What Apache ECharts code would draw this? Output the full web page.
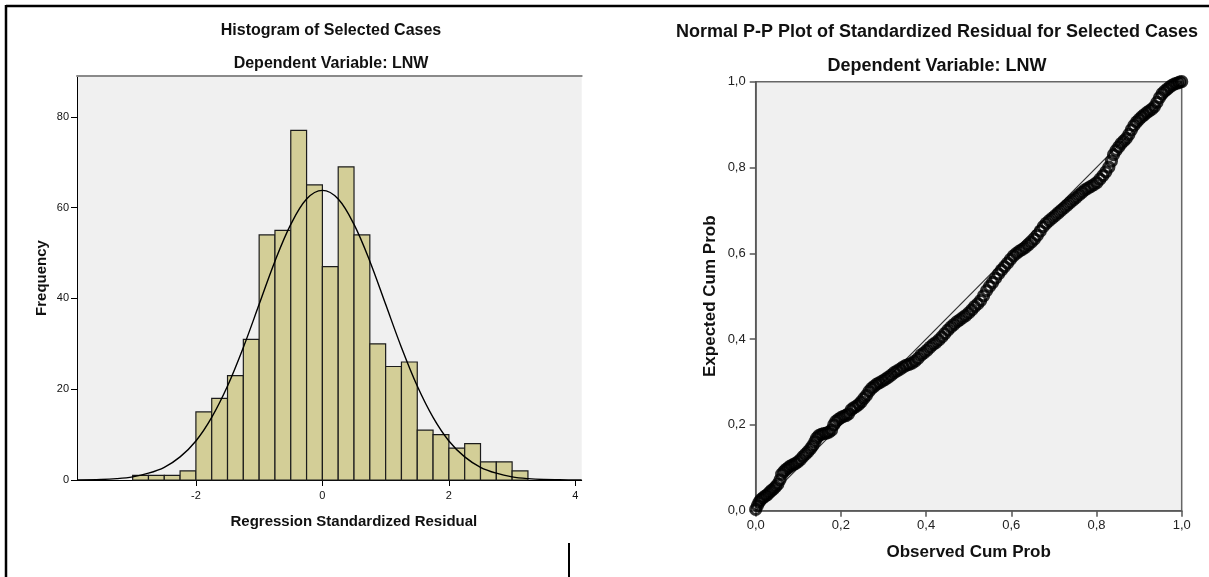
<!DOCTYPE html>
<html lang="en">
<head>
  <meta charset="UTF-8">
  <title>Histogram and Normal P-P Plot - LNW</title>
  <script src="https://cdn.jsdelivr.net/npm/echarts@6.0.0/dist/echarts.min.js"></script>
  <style>
    html, body { margin: 0; padding: 0; background: #fff; }
    #main { width: 1209px; height: 577px; }
  </style>
</head>
<body>
<div id="main"></div>
<script>
// histogram: left edge of each bin (width 0.25) and its frequency
var binLeft = [-3, -2.75, -2.5, -2.25, -2, -1.75, -1.5, -1.25, -1, -0.75, -0.5, -0.25,
               0, 0.25, 0.5, 0.75, 1, 1.25, 1.5, 1.75, 2, 2.25, 2.5, 2.75, 3];
var binCount = [1, 1, 1, 2, 15, 18, 23, 31, 54, 55, 77, 65,
                47, 69, 54, 30, 25, 26, 11, 10, 7, 8, 4, 4, 2];
var binWidth = 0.25;

// normal curve
var curveX = [-3.88, -3.5, -3.25, -3, -2.75, -2.5, -2.25, -2, -1.75, -1.5, -1.25, -1, -0.75, -0.5, -0.25,
              0, 0.25, 0.5, 0.75, 1, 1.25, 1.5, 1.75, 2, 2.25, 2.5, 2.75, 3, 3.25, 3.5, 3.75, 4.1];
var curveY = [0.0, 0.1, 0.3, 0.7, 1.5, 2.8, 5.1, 8.6, 13.8, 20.7, 29.2, 38.7, 48.2, 56.3, 61.9,
              63.8, 61.9, 56.3, 48.2, 38.7, 29.2, 20.7, 13.8, 8.6, 5.1, 2.8, 1.5, 0.7, 0.3, 0.1, 0.05, 0.0];

var histXTicks = [-2, 0, 2, 4];
var histYTicks = [0, 20, 40, 60, 80];

// P-P plot points
var observedProb = [0.000, 0.004, 0.008, 0.012, 0.017, 0.022, 0.027, 0.032, 0.037, 0.042, 0.047, 0.052, 0.057, 0.061, 0.066,
  0.071, 0.076, 0.081, 0.087, 0.093, 0.099, 0.105, 0.111, 0.117, 0.123, 0.129, 0.134, 0.139, 0.143, 0.148,
  0.154, 0.160, 0.166, 0.172, 0.178, 0.183, 0.188, 0.194, 0.200, 0.206, 0.212, 0.218, 0.224, 0.230, 0.236,
  0.242, 0.248, 0.254, 0.260, 0.266, 0.272, 0.278, 0.284, 0.290, 0.297, 0.304, 0.311, 0.318, 0.325, 0.332,
  0.339, 0.346, 0.353, 0.360, 0.367, 0.374, 0.381, 0.388, 0.395, 0.402, 0.409, 0.416, 0.423, 0.430, 0.437,
  0.444, 0.451, 0.458, 0.465, 0.472, 0.479, 0.486, 0.493, 0.500, 0.507, 0.514, 0.521, 0.528, 0.535, 0.542,
  0.549, 0.556, 0.563, 0.570, 0.577, 0.584, 0.591, 0.598, 0.605, 0.612, 0.619, 0.626, 0.633, 0.640, 0.647,
  0.654, 0.661, 0.668, 0.675, 0.682, 0.689, 0.696, 0.703, 0.710, 0.717, 0.724, 0.731, 0.738, 0.745, 0.752,
  0.759, 0.766, 0.773, 0.780, 0.787, 0.794, 0.801, 0.808, 0.815, 0.822, 0.829, 0.835, 0.840, 0.846, 0.852,
  0.858, 0.864, 0.870, 0.876, 0.882, 0.888, 0.894, 0.900, 0.906, 0.912, 0.918, 0.924, 0.930, 0.936, 0.942,
  0.948, 0.954, 0.960, 0.966, 0.972, 0.978, 0.984, 0.990, 0.995, 1.000];
var expectedProb = [0.003, 0.012, 0.020, 0.026, 0.030, 0.034, 0.037, 0.042, 0.047, 0.051, 0.056, 0.062, 0.072, 0.085, 0.091,
  0.096, 0.100, 0.104, 0.107, 0.110, 0.114, 0.119, 0.126, 0.132, 0.138, 0.145, 0.152, 0.161, 0.169, 0.175,
  0.178, 0.180, 0.181, 0.183, 0.188, 0.200, 0.208, 0.213, 0.217, 0.220, 0.222, 0.226, 0.235, 0.240, 0.243,
  0.248, 0.254, 0.262, 0.269, 0.278, 0.285, 0.290, 0.295, 0.298, 0.302, 0.306, 0.311, 0.316, 0.322, 0.326,
  0.330, 0.335, 0.339, 0.341, 0.344, 0.349, 0.355, 0.363, 0.368, 0.374, 0.381, 0.387, 0.392, 0.398, 0.405,
  0.413, 0.421, 0.428, 0.434, 0.440, 0.445, 0.450, 0.455, 0.461, 0.468, 0.476, 0.482, 0.490, 0.501, 0.513,
  0.523, 0.532, 0.542, 0.552, 0.561, 0.569, 0.577, 0.586, 0.594, 0.600, 0.605, 0.609, 0.614, 0.620, 0.626,
  0.633, 0.642, 0.652, 0.662, 0.670, 0.676, 0.682, 0.688, 0.694, 0.700, 0.706, 0.712, 0.718, 0.724, 0.730,
  0.736, 0.742, 0.748, 0.752, 0.756, 0.760, 0.765, 0.773, 0.781, 0.790, 0.801, 0.815, 0.830, 0.840, 0.848,
  0.856, 0.862, 0.868, 0.877, 0.888, 0.898, 0.906, 0.912, 0.918, 0.923, 0.928, 0.932, 0.936, 0.942, 0.952,
  0.963, 0.972, 0.978, 0.983, 0.988, 0.992, 0.995, 0.997, 0.999, 1.000];

var FONT = "'Liberation Sans', Arial, sans-serif";
var NARROW = "'Liberation Sans Narrow', 'Liberation Sans', Arial, sans-serif";

var histData = binLeft.map(function (x, i) { return [x, x + binWidth, binCount[i]]; });
var curveData = curveX.map(function (x, i) { return [x, curveY[i]]; });
var ppData = observedProb.map(function (x, i) { return [x, expectedProb[i]]; });

function comma(v) { return v.toFixed(1).replace('.', ','); }

var chart = echarts.init(document.getElementById('main'), null, { renderer: 'canvas' });

var option = {
  animation: false,
  backgroundColor: '#fff',
  grid: [
    { left: 77, top: 76, width: 504.7, height: 404, show: true, backgroundColor: '#f0f0f0', borderWidth: 0 },
    { left: 755.7, top: 81.7, width: 426, height: 429, show: true, backgroundColor: '#f0f0f0', borderColor: '#666', borderWidth: 1.5 }
  ],
  xAxis: [
    {
      gridIndex: 0, type: 'value', min: -3.88, max: 4.1,
      name: 'Regression Standardized Residual', nameLocation: 'middle', nameGap: 34,
      nameTextStyle: { fontFamily: FONT, fontSize: 15, fontWeight: 'bold', color: '#111', padding: [0, 0, 0, 49] },
      axisLine: { onZero: false, lineStyle: { color: '#000', width: 1 } },
      axisTick: { customValues: histXTicks, length: 6, lineStyle: { color: '#000' } },
      axisLabel: { customValues: histXTicks, margin: 10, fontFamily: NARROW, fontSize: 11, color: '#111' },
      splitLine: { show: false }
    },
    {
      gridIndex: 0, type: 'value', min: -3.88, max: 4.1, position: 'top',
      axisLine: { onZero: false, lineStyle: { color: '#8a8a8a', width: 2 } },
      axisTick: { show: false }, axisLabel: { show: false }, splitLine: { show: false }
    },
    {
      gridIndex: 1, type: 'value', min: 0, max: 1, interval: 0.2,
      name: 'Observed Cum Prob', nameLocation: 'middle', nameGap: 33,
      nameTextStyle: { fontFamily: FONT, fontSize: 17, fontWeight: 'bold', color: '#111' },
      axisLine: { onZero: false, lineStyle: { color: '#555', width: 1.5 } },
      axisTick: { length: 6, lineStyle: { color: '#555', width: 1.5 } },
      axisLabel: { margin: 8, fontFamily: FONT, fontSize: 13, color: '#222', formatter: comma },
      splitLine: { show: false }
    }
  ],
  yAxis: [
    {
      gridIndex: 0, type: 'value', min: 0, max: 89,
      name: 'Frequency', nameLocation: 'middle', nameGap: 28,
      nameTextStyle: { fontFamily: FONT, fontSize: 15, fontWeight: 'bold', color: '#111' },
      axisLine: { show: true, onZero: false, lineStyle: { color: '#000', width: 1 } },
      axisTick: { show: true, customValues: histYTicks, length: 6, lineStyle: { color: '#000' } },
      axisLabel: { customValues: histYTicks, margin: 8, fontFamily: NARROW, fontSize: 11, color: '#111' },
      splitLine: { show: false }
    },
    {
      gridIndex: 1, type: 'value', min: 0, max: 1, interval: 0.2,
      name: 'Expected Cum Prob', nameLocation: 'middle', nameGap: 37,
      nameTextStyle: { fontFamily: FONT, fontSize: 17, fontWeight: 'bold', color: '#111' },
      axisLine: { show: true, onZero: false, lineStyle: { color: '#555', width: 1.5 } },
      axisTick: { show: true, length: 6, lineStyle: { color: '#555', width: 1.5 } },
      axisLabel: { margin: 10, fontFamily: FONT, fontSize: 13, color: '#222', formatter: comma },
      splitLine: { show: false }
    }
  ],
  series: [
    {
      type: 'custom', xAxisIndex: 0, yAxisIndex: 0, data: histData, silent: true,
      renderItem: function (params, api) {
        var top = api.coord([api.value(0), api.value(2)]);
        var bot = api.coord([api.value(1), 0]);
        return {
          type: 'rect',
          shape: { x: top[0], y: top[1], width: bot[0] - top[0], height: bot[1] - top[1] },
          style: { fill: '#d3ce97', stroke: '#1c1c1c', lineWidth: 1.2 }
        };
      }
    },
    {
      type: 'line', xAxisIndex: 0, yAxisIndex: 0, data: curveData, smooth: 0.35,
      showSymbol: false, silent: true, z: 5,
      lineStyle: { color: '#000', width: 1.4 }
    },
    {
      type: 'line', xAxisIndex: 2, yAxisIndex: 1, data: [[0, 0], [1, 1]],
      showSymbol: false, silent: true, z: 2,
      lineStyle: { color: '#333', width: 1.2 }
    },
    {
      type: 'scatter', xAxisIndex: 2, yAxisIndex: 1, data: ppData, z: 3,
      symbol: 'circle', symbolSize: 10, silent: true,
      itemStyle: { color: 'rgba(0,0,0,0)', borderColor: '#000', borderWidth: 3.2 }
    }
  ],
  graphic: [
    { type: 'line', shape: { x1: 6, y1: 6, x2: 1209, y2: 6 }, style: { stroke: '#000', lineWidth: 2.5 } },
    { type: 'line', shape: { x1: 6, y1: 5, x2: 6, y2: 577 }, style: { stroke: '#000', lineWidth: 2.5 } },
    { type: 'line', shape: { x1: 569, y1: 543, x2: 569, y2: 577 }, style: { stroke: '#000', lineWidth: 2 } },
    { type: 'text', x: 331, y: 31, style: { text: 'Histogram of Selected Cases', font: 'bold 16px ' + FONT, fill: '#111', textAlign: 'center', textVerticalAlign: 'middle' } },
    { type: 'text', x: 331, y: 64, style: { text: 'Dependent Variable: LNW', font: 'bold 16px ' + FONT, fill: '#111', textAlign: 'center', textVerticalAlign: 'middle' } },
    { type: 'text', x: 937, y: 32, style: { text: 'Normal P-P Plot of Standardized Residual for Selected Cases', font: 'bold 18px ' + FONT, fill: '#111', textAlign: 'center', textVerticalAlign: 'middle' } },
    { type: 'text', x: 937, y: 66, style: { text: 'Dependent Variable: LNW', font: 'bold 18px ' + FONT, fill: '#111', textAlign: 'center', textVerticalAlign: 'middle' } }
  ]
};

chart.setOption(option);
</script>
</body>
</html>
